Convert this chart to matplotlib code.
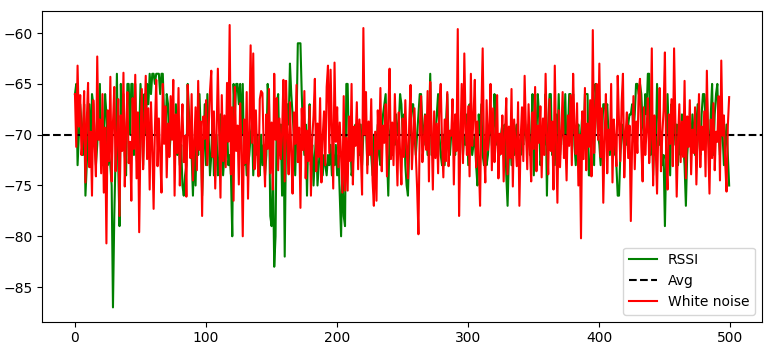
import matplotlib
matplotlib.use("Agg")
import matplotlib.pyplot as plt
import numpy as np

# RSSI readings (dBm), 500 samples
rssi = [
    -66, -65, -73, -70, -67, -69, -72, -67, -76, -73, -70, -67, -72, -66, -67, -70, -73, -71, -68, -65, -72, -73, -70, -66, -68,
    -73, -72, -73, -75, -87, -78, -72, -64, -73, -79, -65, -70, -66, -72, -74, -65, -65, -70, -65, -65, -72, -65, -72, -74, -70,
    -65, -68, -73, -66, -70, -65, -67, -64, -66, -64, -64, -65, -64, -64, -64, -66, -64, -64, -68, -70, -66, -67, -72, -70, -68,
    -69, -71, -67, -72, -70, -73, -71, -75, -76, -74, -73, -65, -68, -70, -72, -76, -71, -75, -69, -72, -66, -70, -76, -72, -67,
    -73, -66, -70, -74, -72, -68, -74, -73, -70, -74, -73, -68, -71, -74, -72, -71, -69, -73, -72, -74, -80, -65, -68, -65, -65,
    -67, -65, -70, -65, -73, -71, -74, -73, -72, -70, -69, -74, -71, -72, -70, -73, -74, -70, -73, -71, -74, -72, -65, -67, -78,
    -79, -73, -83, -80, -67, -66, -72, -69, -76, -67, -82, -70, -67, -69, -63, -66, -68, -70, -74, -69, -61, -61, -61, -66, -70,
    -72, -69, -76, -70, -67, -73, -71, -75, -72, -70, -75, -73, -71, -72, -74, -72, -73, -74, -72, -73, -71, -74, -72, -73, -71,
    -74, -72, -76, -80, -73, -78, -79, -65, -65, -72, -70, -74, -73, -70, -69, -71, -70, -72, -69, -73, -70, -67, -69, -73, -71,
    -70, -72, -74, -70, -73, -71, -69, -72, -73, -70, -68, -67, -66, -72, -76, -70, -69, -72, -70, -71, -68, -70, -69, -66, -67,
    -70, -68, -73, -75, -76, -71, -69, -67, -67, -70, -72, -70, -68, -66, -66, -69, -71, -68, -70, -72, -69, -64, -72, -72, -72,
    -70, -68, -66, -70, -72, -73, -70, -73, -69, -66, -71, -72, -70, -69, -71, -72, -70, -68, -71, -70, -69, -72, -70, -71, -68,
    -73, -67, -70, -72, -71, -70, -73, -75, -68, -70, -67, -72, -73, -71, -73, -72, -70, -68, -71, -72, -66, -69, -71, -70, -72,
    -70, -69, -71, -69, -74, -77, -72, -70, -73, -71, -72, -70, -69, -73, -71, -72, -70, -71, -68, -70, -71, -69, -72, -70, -66,
    -74, -69, -70, -66, -68, -73, -72, -70, -71, -66, -76, -69, -66, -66, -72, -70, -73, -68, -71, -66, -72, -70, -69, -71, -66,
    -72, -70, -66, -66, -68, -66, -71, -73, -70, -69, -72, -70, -68, -71, -66, -66, -66, -74, -74, -70, -68, -73, -65, -67, -70,
    -71, -73, -70, -67, -67, -68, -67, -70, -72, -69, -71, -72, -70, -73, -76, -76, -72, -70, -69, -72, -70, -71, -69, -68, -68,
    -67, -70, -68, -65, -65, -66, -65, -66, -69, -70, -66, -68, -64, -64, -72, -68, -74, -70, -72, -65, -68, -71, -70, -73, -72,
    -79, -72, -66, -70, -74, -67, -70, -68, -71, -69, -73, -70, -72, -68, -71, -73, -77, -72, -70, -69, -71, -68, -70, -72, -69,
    -67, -70, -72, -68, -66, -66, -69, -66, -70, -72, -68, -65, -72, -68, -66, -65, -70, -72, -68, -70, -73, -71, -69, -72, -75,
]

# white noise series
noise = [
    -66.0, -71.2, -63.2, -69.2, -66.1, -72.0, -70.3, -65.7, -74.7, -68.7, -64.9, -73.2, -69.7, -76.0, -66.6, -70.8, -74.1, -62.3, -70.5, -68.5, -73.8, -66.0, -75.7, -69.3, -80.7,
    -67.6, -72.6, -64.3, -74.6, -68.8, -65.3, -73.6, -70.4, -66.5, -78.0, -68.1, -71.6, -63.9, -75.1, -69.6, -65.8, -72.8, -70.7, -76.5, -66.4, -71.4, -64.1, -74.3, -67.8, -79.6,
    -70.3, -65.5, -73.4, -69.1, -64.2, -72.4, -67.4, -75.4, -66.8, -71.2, -77.3, -69.3, -64.6, -73.1, -68.4, -71.9, -75.7, -65.0, -70.9, -67.2, -74.2, -68.9, -72.2, -66.2, -70.5,
    -64.6, -76.0, -68.0, -71.8, -65.4, -75.0, -69.9, -67.0, -72.7, -70.1, -76.1, -65.1, -69.5, -72.3, -66.0, -74.5, -71.1, -67.3, -73.5, -64.7, -71.5, -68.7, -78.0, -68.2, -70.4,
    -66.6, -73.0, -69.2, -65.7, -63.7, -72.2, -67.7, -75.3, -70.0, -63.5, -69.7, -76.2, -66.1, -72.6, -68.1, -73.2, -64.9, -70.7, -59.2, -73.9, -67.3, -76.5, -65.3, -71.6, -69.1,
    -74.9, -66.9, -71.1, -80.0, -68.5, -72.8, -65.8, -76.3, -69.6, -61.2, -70.8, -62.0, -73.4, -67.6, -71.9, -74.1, -66.5, -65.7, -65.9, -71.2, -75.1, -68.0, -71.4, -65.5, -73.8,
    -68.8, -75.4, -64.0, -70.5, -66.4, -73.5, -68.4, -72.4, -69.9, -64.6, -74.6, -64.7, -70.3, -73.9, -66.8, -72.0, -75.8, -67.8, -70.9, -65.1, -72.7, -69.3, -77.2, -67.4, -71.5,
    -65.7, -74.3, -69.6, -72.6, -67.2, -76.0, -70.4, -68.1, -64.5, -73.6, -68.9, -72.2, -66.4, -74.7, -70.1, -67.7, -73.0, -65.3, -63.2, -71.8, -63.6, -69.5, -75.3, -62.9, -70.7,
    -67.3, -73.2, -68.8, -72.3, -75.7, -66.2, -75.5, -70.3, -75.5, -68.2, -72.6, -65.0, -74.9, -69.2, -71.1, -66.8, -73.4, -68.5, -71.6, -75.9, -59.5, -70.0, -65.8, -73.8, -68.7,
    -72.0, -66.5, -74.5, -77.0, -69.7, -76.5, -67.6, -71.4, -65.4, -73.6, -69.1, -70.8, -67.0, -74.1, -68.0, -63.5, -72.4, -68.8, -73.0, -66.0, -70.5, -75.0, -67.8, -71.8, -74.9,
    -68.4, -72.2, -66.6, -71.2, -74.3, -68.7, -65.1, -73.4, -70.4, -67.4, -71.9, -75.3, -79.8, -69.5, -66.2, -72.7, -70.9, -68.1, -71.5, -65.7, -74.6, -64.8, -69.3, -75.4, -67.7,
    -72.3, -68.9, -73.8, -66.9, -65.0, -70.7, -74.2, -68.5, -72.6, -65.8, -73.1, -69.6, -70.1, -66.5, -74.9, -68.0, -71.6, -59.6, -78.0, -70.8, -65.0, -72.8, -62.0, -69.2, -72.0,
    -67.2, -74.1, -64.0, -71.1, -68.2, -64.6, -73.2, -68.7, -72.4, -77.0, -67.7, -61.5, -71.2, -74.7, -66.6, -71.5, -69.5, -65.0, -73.5, -67.4, -72.7, -70.5, -66.1, -74.3, -69.9,
    -71.9, -68.1, -74.6, -70.0, -66.4, -73.9, -69.2, -72.3, -65.5, -75.1, -68.5, -70.9, -73.1, -66.8, -77.0, -70.3, -67.3, -72.6, -64.2, -69.6, -73.4, -67.0, -71.2, -74.6, -67.8,
    -71.4, -65.3, -73.6, -69.1, -70.8, -67.2, -74.2, -68.4, -72.0, -64.0, -70.4, -73.9, -66.5, -71.6, -68.7, -75.4, -63.2, -70.7, -76.7, -67.6, -73.2, -69.7, -65.8, -72.3, -70.1,
    -74.5, -68.1, -71.1, -66.1, -73.0, -64.0, -69.3, -71.9, -66.9, -75.0, -70.0, -80.2, -67.7, -72.4, -65.4, -73.5, -68.9, -71.2, -66.6, -74.1, -59.7, -71.8, -68.2, -65.0, -70.5,
    -63.0, -72.2, -67.4, -76.7, -70.3, -66.0, -73.8, -69.5, -71.5, -65.0, -74.7, -68.5, -70.7, -73.1, -64.2, -68.8, -72.6, -66.8, -64.0, -74.2, -70.0, -67.8, -72.3, -69.1, -78.5,
    -70.8, -66.2, -73.4, -68.7, -71.8, -65.7, -64.5, -71.1, -74.6, -67.3, -72.0, -69.6, -66.4, -72.8, -70.4, -61.5, -75.0, -68.1, -71.4, -75.8, -69.2, -65.4, -73.6, -70.0, -67.6,
    -61.9, -72.4, -75.4, -68.0, -70.9, -66.5, -73.1, -61.5, -68.9, -76.1, -70.5, -67.0, -72.7, -68.7, -72.2, -64.7, -74.3, -68.2, -71.2, -66.6, -73.9, -69.5, -71.8, -67.3, -74.9,
    -70.3, -66.0, -73.2, -69.2, -71.5, -67.7, -74.1, -63.7, -70.8, -75.8, -68.5, -72.3, -66.9, -73.5, -69.7, -70.7, -66.2, -74.5, -62.7, -70.1, -68.1, -72.8, -75.6, -69.1, -66.3,
]

avg = -70

fig = plt.figure(figsize=(7.68, 3.51), dpi=100)
ax = fig.add_axes([0.055, 0.084, 0.937, 0.885])

ax.plot(rssi, color="green", label="RSSI")
ax.axhline(avg, color="black", linestyle="--", label="Avg")
ax.plot(noise, color="red", label="White noise")
ax.legend(loc="lower right")

fig.savefig("out.png", dpi=100)
